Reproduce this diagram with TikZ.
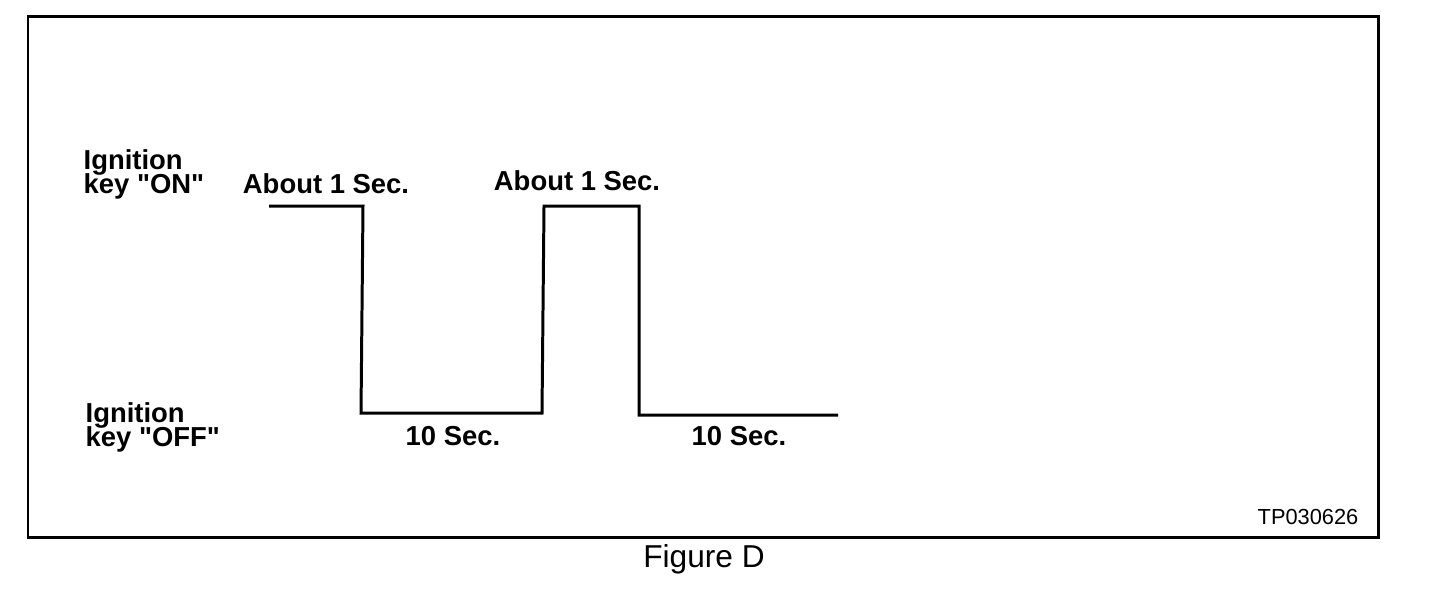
\documentclass[tikz,border=0pt]{standalone}
\usepackage{fontspec}
\setmainfont{Liberation Sans}
\usetikzlibrary{positioning}

\newcommand\lblfont{\fontsize{7.8}{6.9}\selectfont\bfseries\setlength{\lineskiplimit}{-5pt}}
\tikzset{
  lbl/.style={font=\lblfont, inner sep=0pt},
  wave/.style={line width=0.85pt, line join=miter},
}

\begin{document}
\begin{tikzpicture}[x=0.01cm, y=-0.01cm]
    \useasboundingbox (0,0) rectangle (1440,590);
    \draw[line width=0.85pt] (28,16) rectangle (1378,537);
    % level labels
    \node[lbl, anchor=north west, align=left] (on) at (83,149) {Ignition\\key \textquotedbl ON\textquotedbl};
    \node[lbl, anchor=north west, align=left] (off) at (85,402) {Ignition\\key \textquotedbl OFF\textquotedbl};
    % pulse train
    \draw[wave] (269,206) -- (363,206) -- (361,413) -- (542,413) -- (544,206)
        -- (639,206) -- (639,415) -- (838,415);
    \node[lbl, anchor=base] (hi1) at (326,193) {About 1 Sec.};
    \node[lbl, anchor=base] (hi2) at (577,190) {About 1 Sec.};
    \node[lbl, anchor=base] (lo1) at (453,445) {10 Sec.};
    \node[lbl, anchor=base] (lo2) at (739,445) {10 Sec.};
    \node[font=\fontsize{6.2}{7}\selectfont, inner sep=0pt, anchor=base] (tp) at (1308,524) {TP030626};
    \node[font=\fontsize{9}{10}\selectfont, inner sep=0pt, anchor=base] (fig) at (704,567) {Figure D};
\end{tikzpicture}
\end{document}
